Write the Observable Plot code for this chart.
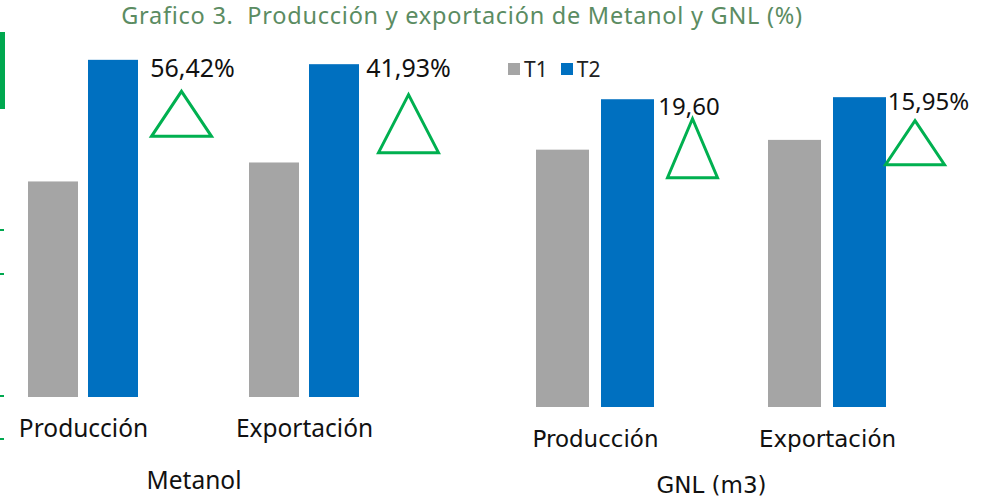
<!DOCTYPE html>
<html><head><meta charset="utf-8">
<script src="https://cdn.jsdelivr.net/npm/d3@7"></script>
<script src="https://cdn.jsdelivr.net/npm/@observablehq/plot@0.6"></script>
<style>
html,body{margin:0;padding:0;background:#fff;}
#wrap{position:relative;width:992px;height:499px;overflow:hidden;font-family:"Noto Sans",sans-serif;}
#title{position:absolute;top:-1px;left:0;width:924px;text-align:center;font-size:23.5px;letter-spacing:0.75px;color:#5b8c62;white-space:pre;z-index:2;}
#left{position:absolute;left:0;top:0;}
#right{position:absolute;left:490px;top:0;}
#legend{position:absolute;left:508px;top:52px;z-index:3;}
.deco{position:absolute;background:#00a84f;}
.lg-swatch{margin-right:13px !important;}
.lg-swatch > svg{margin-right:4px !important;}
</style>
</head><body>
<div id="wrap">
  <div class="deco" style="left:0;top:32px;width:5px;height:77px"></div>
  <div class="deco" style="left:0;top:229px;width:4px;height:2px"></div>
  <div class="deco" style="left:0;top:273px;width:4px;height:2px"></div>
  <div class="deco" style="left:0;top:395px;width:4px;height:2px"></div>
  <div class="deco" style="left:0;top:438px;width:4px;height:2px"></div>
  <div id="title">Grafico 3.  Producción y exportación de Metanol y GNL (%)</div>
  <div id="left"></div>
  <div id="right"></div>
  <div id="legend"></div>
</div>
<script>
// ---- data ----
const categories = ["Producción", "Exportación"];
const series = ["T1", "T2"];
const seriesColors = ["#a5a5a5", "#0070c0"];
const metanolT1 = [100, 108.8];
const metanolT2 = [156.42, 154.4];
const metanolChange = ["56,42%", "41,93%"];
const gnlT1 = [100, 103.8];
const gnlT2 = [119.6, 120.4];
const gnlChange = ["19,60", "15,95%"];
const panelTitles = ["Metanol", "GNL (m3)"];

function rows(t1, t2) {
  return categories.flatMap((c, i) => [
    {category: c, series: series[0], value: t1[i]},
    {category: c, series: series[1], value: t2[i]}
  ]);
}
function notes(t2, change) {
  return categories.map((c, i) => ({category: c, series: series[1], value: t2[i], change: change[i]}));
}
function triangle(w, h) {
  return {draw(ctx) { ctx.moveTo(0, -h / 2); ctx.lineTo(w / 2, h / 2); ctx.lineTo(-w / 2, h / 2); ctx.closePath(); }};
}

function panel(o) {
  const data = rows(o.t1, o.t2);
  const ann = notes(o.t2, o.change);
  const marks = [
    Plot.barY(data, {fx: "category", x: "series", y: "value", fill: "series"}),
    Plot.axisFx({anchor: "bottom", tickSize: 0, tickPadding: o.tickPadding, fontSize: o.axisSize,
      label: o.title, labelAnchor: "center", labelOffset: o.labelOffset})
  ];
  ann.forEach((d, i) => {
    const n = o.noteStyle[i], t = o.tri[i];
    marks.push(Plot.text([d], {fx: "category", x: "series", y: "value", text: "change",
      dx: n.dx, dy: n.dy, fontSize: o.noteSize, fontFamily: "Noto Sans", fill: "#111", lineAnchor: "middle"}));
    marks.push(Plot.dot([d], {fx: "category", x: "series", y: "value", r: 1,
      symbol: triangle(t.w, t.h), stroke: "#00b050", strokeWidth: 3, fill: "none",
      strokeLinejoin: "miter", dx: t.dx, dy: t.dy}));
  });
  return Plot.plot({
    width: o.width, height: 499,
    marginLeft: o.marginLeft, marginRight: o.marginRight, marginTop: o.marginTop, marginBottom: o.marginBottom,
    style: {background: "transparent", overflow: "visible", fontFamily: o.axisFont, fontSize: o.axisSize + "px", color: "#111"},
    fx: {domain: categories, paddingInner: o.fxInner, paddingOuter: 0, axis: null},
    x: {domain: series, paddingInner: o.xInner, paddingOuter: 0, axis: null},
    y: {domain: [0, o.yMax], axis: null},
    color: {domain: series, range: seriesColors},
    marks
  });
}

document.getElementById("left").append(panel({
  t1: metanolT1, t2: metanolT2, change: metanolChange, title: panelTitles[0],
  width: 490, marginLeft: 28, marginRight: 131, marginTop: 9, marginBottom: 102, yMax: 180,
  fxInner: 111 / 221, xInner: 1 / 6,
  axisFont: "Noto Sans", axisSize: 24.5, tickPadding: 22, labelOffset: 91,
  noteSize: 25,
  noteStyle: [{dx: 79, dy: 9}, {dx: 74, dy: 4}],
  tri: [{dx: 68, dy: 53.5, w: 60, h: 45}, {dx: 74, dy: 59, w: 60, h: 58}]
}));

document.getElementById("right").append(panel({
  t1: gnlT1, t2: gnlT2, change: gnlChange, title: panelTitles[1],
  width: 502, marginLeft: 46, marginRight: 106, marginTop: 21, marginBottom: 92, yMax: 150,
  fxInner: 114 / 232, xInner: 12.5 / 65,
  axisFont: "DejaVu Sans", axisSize: 23, tickPadding: 23, labelOffset: 85,
  noteSize: 24,
  noteStyle: [{dx: 61, dy: 8}, {dx: 68.5, dy: 5}],
  tri: [{dx: 64.5, dy: 48.5, w: 50, h: 59}, {dx: 55, dy: 45, w: 59, h: 44}]
}));

document.getElementById("legend").append(Plot.legend({
  color: {type: "categorical", domain: series, range: seriesColors},
  swatchSize: 12, className: "lg",
  style: {fontSize: "21px", fontFamily: "Noto Sans", color: "#222"}
}));
</script>
</body></html>
